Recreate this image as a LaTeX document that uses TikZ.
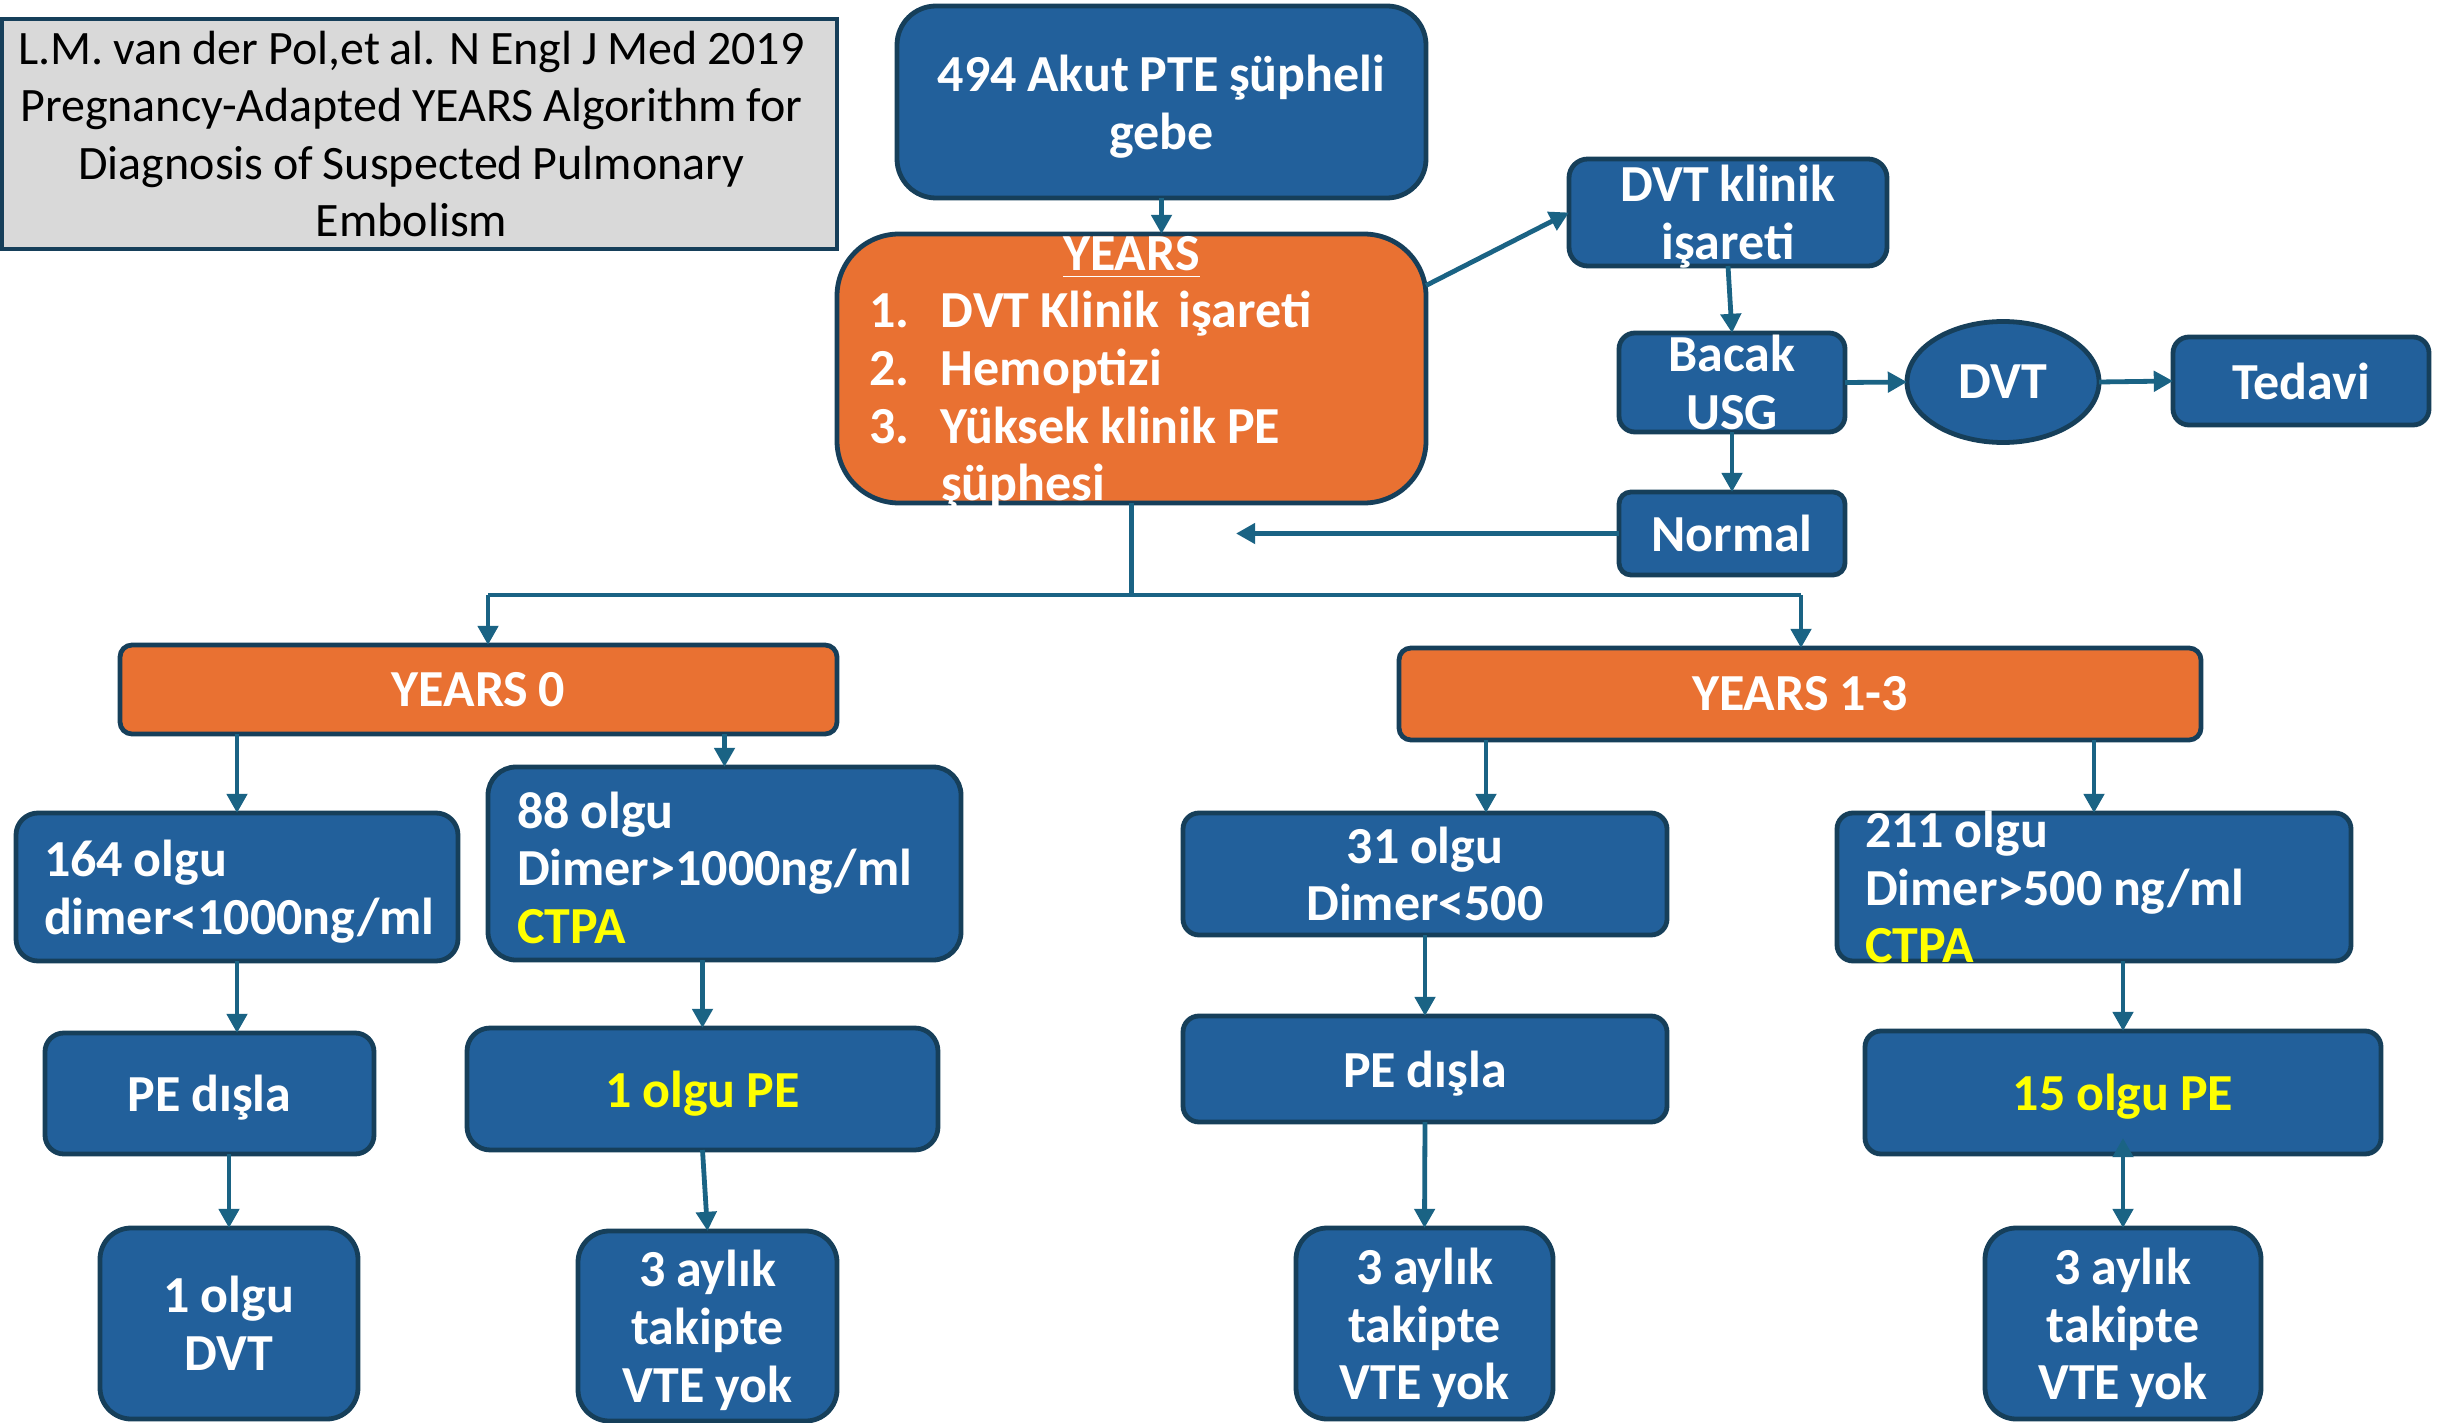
\documentclass[tikz,border=0pt]{standalone}
\usepackage{fontspec}
\setmainfont[WordSpace=0.9]{Carlito}
\usetikzlibrary{arrows.meta,shapes.geometric,calc}
\definecolor{boxblue}{HTML}{22609B}
\definecolor{boxedge}{HTML}{163F5A}
\definecolor{connc}{HTML}{1A6384}
\definecolor{orng}{HTML}{E97132}
\definecolor{titlegray}{HTML}{D9D9D9}
\definecolor{ylw}{HTML}{FFFF00}
\newcommand\mkbox[8]{%
  \node[boxsty,#6,minimum width={(#4-#2)*0.25pt},minimum height={(#5-#3)*0.25pt}] (#1) at ({(#2+#4)/2},{(#3+#5)/2}) {};
  \node[txt,#7] (#1-t) at (#1.center) {#8};}
\tikzset{
  boxsty/.style={draw=boxedge,line width=1.2pt,fill=boxblue,inner sep=0pt,outer sep=0pt,rectangle},
  orbox/.style={fill=orng},
  txt/.style={text=white,font=\bfseries\fontsize{13}{14.4}\selectfont,align=center,inner sep=0pt},
  ml/.style={yshift=-1.1pt},
  conn/.style={draw=connc,line width=1.2pt},
  arr/.style={conn,-{Triangle[length=4.8pt,width=5pt]}},
}
\begin{document}
\begin{tikzpicture}[x=0.25pt,y=-0.25pt]
\fill[white] (0,0) rectangle (2443,1423);
\useasboundingbox (0,0) rectangle (2443,1423);
% title
\mkbox{title}{2}{19}{837}{249}{fill=titlegray,line width=0.8pt,rounded corners=0pt}{text=black,font=\fontsize{12}{14.4}\selectfont,xshift=-2pt}{L.M. van der Pol,et al. N Engl J Med 2019\\Pregnancy-Adapted YEARS Algorithm for\\Diagnosis of Suspected Pulmonary\\Embolism}
% top
\mkbox{top}{897}{6}{1426}{198}{rounded corners=9.75pt}{ml}{494 Akut PTE şüpheli\\gebe}
\mkbox{yrs}{837}{234}{1426}{503}{orbox,rounded corners=15.5pt}{ml,text width=131.25pt,align=flush left}{\makebox[131.25pt][c]{\underline{YEARS}}\\
\makebox[18pt][l]{1.}DVT Klinik \hspace{2pt}işareti\\
\makebox[18pt][l]{2.}Hemoptizi\\
\makebox[18pt][l]{3.}Yüksek klinik PE\\
\hspace*{18pt}şüphesi}
\mkbox{dvtk}{1569}{159}{1887}{266}{rounded corners=4.7pt}{ml}{DVT klinik\\işareti}
\mkbox{bacak}{1619}{333}{1845}{432}{rounded corners=4pt}{}{Bacak\\USG}
\node[boxsty,ellipse,minimum width=48pt,minimum height=30.25pt] (dvt) at (2003,382) {};
\node[txt] (dvt-t) at (dvt.center) {DVT};
\mkbox{ted}{2173}{337}{2429}{425}{rounded corners=4pt}{}{Tedavi}
\mkbox{normal}{1619}{492}{1845}{575}{rounded corners=3pt}{}{Normal}
% YEARS groups
\mkbox{y0}{120}{645}{837}{734}{orbox,rounded corners=3pt}{}{YEARS 0}
\mkbox{y13}{1399}{648}{2201}{740}{orbox,rounded corners=3pt}{}{YEARS 1-3}
% left branch
\mkbox{b164}{16}{813}{458}{961}{rounded corners=5.5pt}{ml,text width=96.5pt,align=flush left}{164 olgu\\dimer<1000ng/ml}
\mkbox{b88}{488}{767}{961}{960}{rounded corners=7pt}{ml,text width=103.75pt,align=flush left}{88 olgu\\Dimer>1000ng/ml\\\textcolor{ylw}{CTPA}}
\mkbox{pe1}{45}{1033}{374}{1154}{rounded corners=4.7pt}{ml}{PE dışla}
\mkbox{pe88}{467}{1028}{938}{1150}{rounded corners=5.8pt}{ml,text=ylw}{1 olgu PE}
\mkbox{dvt1}{100}{1228}{358}{1419}{rounded corners=7.8pt}{}{1 olgu\\DVT}
\mkbox{fu1}{578}{1231}{837}{1421}{rounded corners=7.8pt}{ml}{3 aylık\\takipte\\VTE yok}
% right branch
\mkbox{b31}{1183}{813}{1667}{935}{rounded corners=4pt}{}{31 olgu\\Dimer<500}
\mkbox{b211}{1837}{813}{2351}{961}{rounded corners=4pt}{text width=114.5pt,align=flush left}{211 olgu\\Dimer>500 ng/ml\\\textcolor{ylw}{CTPA}}
\mkbox{pe2}{1183}{1016}{1667}{1122}{rounded corners=4pt}{ml}{PE dışla}
\mkbox{pe15}{1865}{1031}{2381}{1154}{rounded corners=4pt}{ml,text=ylw}{15 olgu PE}
\mkbox{fu2}{1296}{1228}{1553}{1419}{rounded corners=7.8pt}{ml}{3 aylık\\takipte\\VTE yok}
\mkbox{fu3}{1985}{1228}{2261}{1419}{rounded corners=7.8pt}{ml}{3 aylık\\takipte\\VTE yok}
% connectors
\draw[arr] (top.south) -- (top.south |- yrs.north);
\draw[arr] ($(yrs.east)+(0,-83)$) -- (dvtk.west);
\draw[arr] (dvtk.south) -- (bacak.north);
\draw[arr] (bacak.east) -- (dvt.west);
\draw[arr] (dvt.east) -- (ted.west);
\draw[arr] (bacak.south) -- (normal.north);
\coordinate (ret) at (1236,533.5);
\draw[arr] (normal.west) -- (ret);
\coordinate (busL) at (488,595);
\coordinate (busR) at (1801,595);
\draw[conn] (yrs.south) -- (yrs.south |- busL);
\draw[conn] (busL) -- (busR);
\draw[arr] (busL) -- (busL |- y0.north);
\draw[arr] (busR) -- (busR |- y13.north);
\draw[arr] (b164.north |- y0.south) -- (b164.north);
\draw[arr] (b88.north |- y0.south) -- (b88.north);
\draw[arr] (b164.south) -- (b164.south |- pe1.north);
\draw[arr] (dvt1.north |- pe1.south) -- (dvt1.north);
\draw[arr] (pe88.north |- b88.south) -- (pe88.north);
\draw[arr] (pe88.south) -- (fu1.north);
\coordinate (a31) at (1486,740);
\draw[arr] (a31) -- (a31 |- b31.north);
\draw[arr] (b211.north |- y13.south) -- (b211.north);
\draw[arr] (b31.south) -- (pe2.north);
\draw[arr] (pe2.south) -- (fu2.north);
\draw[arr] (pe15.north |- b211.south) -- (pe15.north);
\draw[conn,{Triangle[length=4.8pt,width=5pt]}-{Triangle[length=4.8pt,width=5pt]},shorten <=-4pt] (pe15.south) -- (fu3.north);
\end{tikzpicture}
\end{document}
